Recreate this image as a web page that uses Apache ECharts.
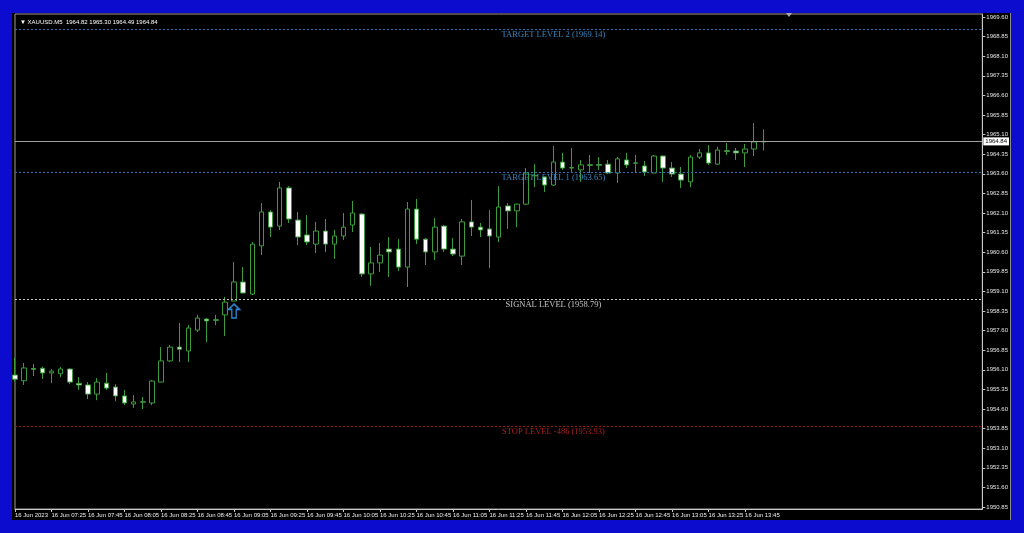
<!DOCTYPE html>
<html><head><meta charset="utf-8">
<script src="https://cdn.jsdelivr.net/npm/echarts@6/dist/echarts.min.js"></script>
<style>
html,body{margin:0;padding:0;background:#0c0cce;width:1024px;height:533px;overflow:hidden;}
#chart{position:absolute;left:12px;top:13px;width:999px;height:507px;background:#000;}
</style></head><body><div id="chart"></div>
<script>
const symbolName = 'XAUUSD.M5';
const lastQuote = [1964.82, 1965.30, 1964.49, 1964.84];

const times = [
'07:05','07:10','07:15','07:20','07:25','07:30','07:35','07:40','07:45','07:50','07:55',
'08:00','08:05','08:10','08:15','08:20','08:25','08:30','08:35','08:40','08:45','08:50','08:55',
'09:00','09:05','09:10','09:15','09:20','09:25','09:30','09:35','09:40','09:45','09:50','09:55',
'10:00','10:05','10:10','10:15','10:20','10:25','10:30','10:35','10:40','10:45','10:50','10:55',
'11:00','11:05','11:10','11:15','11:20','11:25','11:30','11:35','11:40','11:45','11:50','11:55',
'12:00','12:05','12:10','12:15','12:20','12:25','12:30','12:35','12:40','12:45','12:50','12:55',
'13:00','13:05','13:10','13:15','13:20','13:25','13:30','13:35','13:40','13:45','13:50','13:55',
'14:00','14:05','14:10','14:15','14:20','14:25','14:30','14:35','14:40','14:45','14:50','14:55',
'15:00','15:05','15:10','15:15','15:20','15:25','15:30','15:35','15:40','15:45','15:50','15:55'
];

const openV = [
1955.90,1955.68,1956.15,1956.16,1955.98,1955.95,1956.13,1955.58,1955.52,1955.17,
1955.59,1955.44,1955.10,1954.79,1954.86,1954.83,1955.63,1956.44,1956.97,1956.82,
1957.62,1958.04,1957.99,1958.20,1958.73,1959.46,1959.00,1960.84,1962.14,1961.60,
1963.06,1961.83,1961.26,1960.91,1961.41,1960.91,1961.22,1961.64,1962.06,1959.77,
1960.19,1960.72,1960.72,1960.03,1962.25,1961.10,1960.61,1961.60,1960.72,1960.45,
1961.76,1961.56,1961.49,1961.18,1962.37,1962.18,1962.44,1963.52,1963.48,1963.17,
1964.05,1963.82,1963.75,1963.92,1963.95,1963.97,1963.63,1964.13,1964.00,1963.90,
1963.63,1964.28,1963.82,1963.59,1963.29,1964.24,1964.40,1963.97,1964.48,1964.47,
1964.40,1964.55,1964.82
];
const highV = [
1956.55,1956.36,1956.32,1956.22,1956.13,1956.21,1956.15,1955.82,1955.63,1955.78,
1955.98,1955.55,1955.33,1955.13,1955.06,1955.71,1956.97,1957.05,1957.89,1957.81,
1958.20,1958.08,1958.20,1958.89,1960.22,1960.03,1960.99,1962.48,1962.21,1963.29,
1963.13,1962.14,1962.02,1961.76,1961.87,1961.45,1962.10,1962.56,1962.10,1960.80,
1960.95,1961.18,1961.10,1962.52,1962.64,1961.14,1961.91,1961.64,1961.14,1961.87,
1962.60,1961.72,1962.21,1963.13,1962.48,1962.46,1963.82,1963.97,1963.50,1964.66,
1964.40,1964.59,1964.13,1964.32,1964.24,1964.13,1964.24,1964.40,1964.32,1964.09,
1964.32,1964.30,1964.05,1963.86,1964.32,1964.55,1964.70,1964.63,1964.78,1964.59,
1964.74,1965.54,1965.30
];
const lowV = [
1955.67,1955.52,1955.86,1955.75,1955.59,1955.82,1955.55,1955.33,1954.98,1954.94,
1955.33,1954.90,1954.75,1954.64,1954.60,1954.75,1955.63,1956.40,1956.40,1956.40,
1957.55,1957.16,1957.81,1957.39,1958.73,1959.02,1958.96,1960.49,1961.18,1961.45,
1961.72,1960.87,1960.87,1960.57,1960.61,1960.34,1961.07,1961.37,1959.65,1959.31,
1959.84,1959.65,1959.88,1959.27,1960.91,1960.11,1960.30,1960.61,1960.45,1960.11,
1961.22,1961.18,1959.99,1960.99,1961.49,1961.56,1962.40,1963.09,1962.90,1963.13,
1963.75,1963.67,1963.29,1963.63,1963.75,1963.59,1963.25,1963.82,1963.63,1963.52,
1963.63,1963.29,1963.48,1963.06,1963.09,1964.17,1963.94,1963.94,1964.32,1964.13,
1963.86,1964.28,1964.49
];
const closeV = [
1955.74,1956.17,1956.12,1955.98,1956.05,1956.13,1955.63,1955.52,1955.17,1955.63,
1955.40,1955.10,1954.83,1954.87,1954.88,1955.67,1956.44,1956.97,1956.89,1957.70,
1958.08,1957.97,1958.02,1958.69,1959.46,1959.04,1960.91,1962.14,1961.56,1963.06,
1961.87,1961.18,1960.99,1961.41,1960.91,1961.22,1961.56,1962.10,1959.77,1960.19,
1960.49,1960.61,1960.03,1962.25,1961.10,1960.61,1961.56,1960.72,1960.53,1961.76,
1961.56,1961.45,1961.22,1962.33,1962.18,1962.44,1963.63,1963.54,1963.17,1964.05,
1963.82,1963.84,1963.94,1963.95,1963.93,1963.63,1964.17,1963.94,1964.02,1963.67,
1964.28,1963.82,1963.59,1963.36,1964.24,1964.40,1964.01,1964.51,1964.46,1964.40,
1964.55,1964.82,1964.84
];

const xTickLabels = ['16 Jun 2023','16 Jun 07:25','16 Jun 07:45','16 Jun 08:05','16 Jun 08:25','16 Jun 08:45',
'16 Jun 09:05','16 Jun 09:25','16 Jun 09:45','16 Jun 10:05','16 Jun 10:25','16 Jun 10:45','16 Jun 11:05',
'16 Jun 11:25','16 Jun 11:45','16 Jun 12:05','16 Jun 12:25','16 Jun 12:45','16 Jun 13:05','16 Jun 13:25','16 Jun 13:45'];
const xTickStep = 4;

const yTicks = [1950.85,1951.60,1952.35,1953.10,1953.85,1954.60,1955.35,1956.10,1956.85,1957.60,1958.35,
1959.10,1959.85,1960.60,1961.35,1962.10,1962.85,1963.60,1964.35,1965.10,1965.85,1966.60,1967.35,1968.10,1968.85,1969.60];
const yMin = 1950.7735, yMax = 1969.7148;

const levelValues = [1969.14, 1963.65, 1958.79, 1953.93];
const levelTexts = ['TARGET LEVEL 2 (1969.14)','TARGET LEVEL 1 (1963.65)','SIGNAL LEVEL (1958.79)','STOP LEVEL -486 (1953.93)'];
const levelLabelIndex = 59;
const currentPrice = 1964.84;
const signalArrow = [24, 1958.35];

const levelLineColors = ['#2f72b4','#2f72b4','#c8c8c8','#9a1515'];
const levelTextColors = ['#4aa3e6','#4aa3e6','#f0f0f0','#d22a2a'];
const green = '#3c9c3c';

const candleData = openV.map((o, i) => [o, closeV[i], lowV[i], highV[i]]);
const showIdx = (idx) => idx % xTickStep === 0 && idx / xTickStep < xTickLabels.length;

const chart = echarts.init(document.getElementById('chart'), null, {renderer: 'canvas'});
chart.setOption({
  backgroundColor: '#000',
  animation: false,
  title: {
    text: '\u25BC ' + symbolName + '  ' + lastQuote.map(v => v.toFixed(2)).join(' '),
    left: 3, top: 1,
    textStyle: {color: '#fff', fontSize: 6, fontWeight: 'normal', fontFamily: 'Liberation Sans'}
  },
  grid: {left: 1, top: 1, right: 27, bottom: 11, show: true, borderColor: '#9a9a9a', borderWidth: 1, backgroundColor: 'transparent'},
  xAxis: {
    type: 'category', data: times, boundaryGap: false,
    axisLine: {show: true, lineStyle: {color: '#c8c8c8', width: 1}},
    axisTick: {show: true, length: 3, interval: showIdx, lineStyle: {color: '#c8c8c8'}},
    axisLabel: {
      interval: showIdx,
      formatter: (v, i) => xTickLabels[i / xTickStep],
      align: 'left', color: '#f0f0f0', fontSize: 6, margin: 3, fontFamily: 'Liberation Sans'
    },
    splitLine: {show: false}
  },
  yAxis: {
    type: 'value', position: 'right', min: yMin, max: yMax, scale: true,
    axisLine: {show: true, lineStyle: {color: '#c8c8c8', width: 1}},
    axisTick: {show: true, length: 3, customValues: yTicks, lineStyle: {color: '#c8c8c8'}},
    axisLabel: {customValues: yTicks, formatter: v => v.toFixed(2), color: '#e6e6e6', fontSize: 6, margin: 4, fontFamily: 'Liberation Sans'},
    splitLine: {show: false}
  },
  series: [
    {
      type: 'candlestick', data: candleData, barWidth: 5, clip: true,
      itemStyle: {color: '#000', color0: '#fff', borderColor: green, borderColor0: green, borderWidth: 1},
      emphasis: {disabled: true},
      markLine: {
        symbol: 'none', silent: true, animation: false,
        emphasis: {disabled: true},
        label: {show: false},
        data: levelValues.map((v, k) => ({
          yAxis: v, lineStyle: {color: levelLineColors[k], type: [2, 2], width: 1}, label: {show: false}
        })).concat([{
          yAxis: currentPrice,
          lineStyle: {color: '#a0a0a0', type: 'solid', width: 1},
          label: {show: true, position: 'end', distance: 1, formatter: currentPrice.toFixed(2),
            backgroundColor: '#fff', color: '#000', fontSize: 6, padding: [1, 2, 1, 2], fontFamily: 'Liberation Sans'}
        }])
      },
      markPoint: {
        silent: true, animation: false,
        data: [{
          coord: [times[signalArrow[0]], signalArrow[1]],
          symbol: 'path://M5,0 L10,5 L7,5 L7,13 L3,13 L3,5 L0,5 Z',
          symbolSize: [11, 14],
          itemStyle: {color: 'rgba(0,0,0,0)', borderColor: '#2a86d4', borderWidth: 1.5},
          label: {show: false}
        }]
      }
    },
    {
      type: 'scatter', symbolSize: 0, silent: true,
      data: levelValues.map((v, k) => ({
        value: [times[levelLabelIndex], v],
        label: {color: levelTextColors[k]}
      })),
      label: {
        show: true, position: 'bottom', distance: 1,
        formatter: p => levelTexts[p.dataIndex],
        fontFamily: 'Liberation Serif', fontSize: 8.5, lineHeight: 9
      },
      emphasis: {disabled: true}
    }
  ],
  graphic: [
    {type: 'line', shape: {x1: 998.5, y1: 0, x2: 998.5, y2: 507}, style: {stroke: '#8a8a8a', lineWidth: 1}, silent: true},
    {type: 'polygon', shape: {points: [[774, 0], [780, 0], [777, 4]]}, style: {fill: '#a8a8a8'}, silent: true}
  ]
});
</script></body></html>
